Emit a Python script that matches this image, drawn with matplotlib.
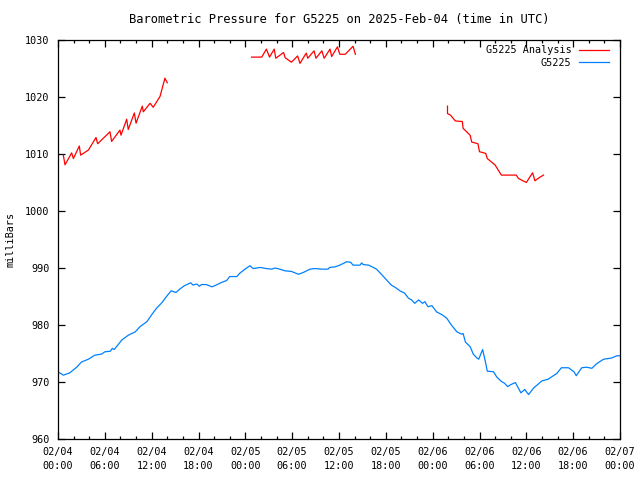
import numpy as np
import matplotlib.pyplot as plt

# Stunden seit 2025-02-04 00:00 UTC
# Analyse (rot), drei Abschnitte
ana1_h = [0.68, 0.9, 1.75, 1.97, 2.73, 2.9, 3.9, 4.87, 5.08, 6.66, 6.87, 7.94, 8.07,
          8.8, 9.0, 9.78, 10.0, 10.8, 10.93, 11.8, 12.2, 13.07, 13.7, 14.0]
ana1_p = [1009.8, 1008.1, 1010.2, 1009.2, 1011.4, 1009.8, 1010.7, 1012.9, 1011.8,
          1013.9, 1012.2, 1014.2, 1013.3, 1016.1, 1014.3, 1017.2, 1015.4, 1018.4,
          1017.4, 1018.9, 1018.2, 1020.1, 1023.3, 1022.5]
ana2_h = [24.8, 26.1, 26.7, 27.1, 27.7, 27.9, 28.9, 29.1, 29.9, 30.7, 31.0, 31.8, 32.0,
          32.8, 33.05, 33.8, 34.1, 34.85, 35.06, 35.8, 36.1, 36.8, 37.8, 38.1]
ana2_p = [1027.0, 1027.0, 1028.4, 1027.0, 1028.4, 1026.8, 1027.8, 1026.9, 1026.1,
          1027.2, 1025.9, 1027.7, 1026.8, 1028.1, 1026.8, 1028.1, 1026.8, 1028.4,
          1027.1, 1028.8, 1027.5, 1027.5, 1028.9, 1027.5]
ana3_h = [49.9, 49.9, 50.3, 50.9, 51.8, 51.9, 52.8, 53.0, 53.8, 54.0, 54.8, 55.0,
          55.98, 56.8, 58.7, 59.0, 60.0, 60.8, 61.1, 61.7, 62.2]
ana3_p = [1018.4, 1017.1, 1016.8, 1015.8, 1015.7, 1014.5, 1013.3, 1012.1, 1011.8,
          1010.4, 1010.1, 1009.2, 1008.1, 1006.3, 1006.3, 1005.7, 1005.0, 1006.7,
          1005.3, 1005.9, 1006.3]

# Station (blau)
obs_h = [0.0, 0.68, 1.5, 2.4, 3.0, 3.9, 4.7, 5.6, 6.0, 6.7, 6.96, 7.2, 8.2, 9.0, 9.9,
         10.5, 11.4, 12.0, 12.6, 13.3, 13.9, 14.5, 15.1, 15.6, 16.2, 17.0, 17.3, 17.8,
         18.1, 18.4, 19.0, 19.7, 20.1, 21.0, 21.6, 22.0, 22.9, 23.3, 23.96, 24.6, 25.0,
         25.9, 26.7, 27.4, 27.8, 28.4, 29.1, 29.9, 30.8, 31.4, 32.3, 32.9, 33.8, 34.6,
         34.8, 35.5, 36.1, 37.0, 37.5, 37.8, 38.7, 38.9, 39.1, 39.8, 40.4, 40.8, 41.5,
         42.1, 42.7, 43.2, 43.8, 44.4, 44.9, 45.3, 45.7, 46.2, 46.7, 47.0, 47.4, 47.9,
         48.5, 49.2, 49.8, 50.4, 51.1, 51.7, 51.9, 52.2, 52.8, 53.2, 53.6, 53.9, 54.4,
         54.7, 55.0, 55.8, 56.2, 56.8, 57.2, 57.6, 58.1, 58.6, 59.3, 59.8, 60.0, 60.3,
         60.9, 62.0, 62.8, 63.9, 64.5, 65.4, 66.1, 66.4, 67.1, 67.7, 68.4, 69.0, 69.9,
         70.9, 71.6, 72.0]
obs_p = [971.8, 971.2, 971.6, 972.6, 973.5, 974.0, 974.7, 974.9, 975.3, 975.4, 975.9,
         975.7, 977.4, 978.2, 978.8, 979.7, 980.6, 981.8, 982.9, 983.9, 985.0, 986.0,
         985.7, 986.3, 986.9, 987.4, 987.0, 987.2, 986.8, 987.1, 987.1, 986.7, 986.9,
         987.5, 987.8, 988.5, 988.5, 989.1, 989.8, 990.4, 989.9, 990.1, 989.9, 989.8,
         990.0, 989.8, 989.5, 989.4, 988.9, 989.2, 989.8, 989.9, 989.8, 989.8, 990.1,
         990.2, 990.5, 991.1, 991.0, 990.5, 990.5, 990.9, 990.6, 990.5, 990.1, 989.8,
         988.8, 987.9, 987.0, 986.6, 986.0, 985.6, 984.7, 984.4, 983.8, 984.4, 983.8,
         984.1, 983.2, 983.4, 982.3, 981.8, 981.2, 980.0, 978.8, 978.4, 978.5, 977.0,
         976.2, 974.9, 974.3, 974.0, 975.7, 973.9, 971.9, 971.8, 970.9, 970.1, 969.8,
         969.2, 969.6, 969.9, 968.1, 968.7, 968.3, 967.8, 968.9, 970.2, 970.5, 971.5,
         972.5, 972.5, 971.8, 971.1, 972.5, 972.6, 972.4, 973.2, 974.0, 974.2, 974.6,
         974.6]

tick_h = list(range(0, 73, 6))
tick_labels = ['02/04\n00:00', '02/04\n06:00', '02/04\n12:00', '02/04\n18:00',
               '02/05\n00:00', '02/05\n06:00', '02/05\n12:00', '02/05\n18:00',
               '02/06\n00:00', '02/06\n06:00', '02/06\n12:00', '02/06\n18:00',
               '02/07\n00:00']

plt.rcParams['font.family'] = 'DejaVu Sans Mono'
plt.rcParams['font.size'] = 7.3

fig = plt.figure(figsize=(6.4, 4.8), dpi=100)
ax = fig.add_axes([58 / 640, 41 / 480, 562 / 640, 399 / 480])

rot = '#ff0000'
blau = '#0080ff'
ax.plot(ana1_h, ana1_p, color=rot, lw=0.9, label='G5225 Analysis')
ax.plot(ana2_h, ana2_p, color=rot, lw=0.9)
ax.plot(ana3_h, ana3_p, color=rot, lw=0.9)
ax.plot(obs_h, obs_p, color=blau, lw=0.9, label='G5225')

ax.set_xlim(0, 72)
ax.set_ylim(960, 1030)
ax.set_xticks(tick_h)
ax.set_xticklabels(tick_labels, linespacing=1.5)
ax.set_xticks(range(0, 73, 2), minor=True)
ax.set_yticks(range(960, 1031, 10))
ax.tick_params(which='both', direction='in', top=True, right=True, width=0.9)
ax.tick_params(which='major', length=5, pad=6)
ax.tick_params(which='minor', length=2.5)
for s in ax.spines.values():
    s.set_linewidth(0.9)

ax.set_ylabel('milliBars', labelpad=7)
ax.set_title('Barometric Pressure for G5225 on 2025-Feb-04 (time in UTC)', pad=12)
ax.legend(loc='upper right', bbox_to_anchor=(1 - 2 / 562, 1 + 4 / 399), frameon=False,
          markerfirst=False, handlelength=2.9, handletextpad=0.8, labelspacing=0.25,
          borderaxespad=0.5)

fig.savefig('out.png', dpi=100)
